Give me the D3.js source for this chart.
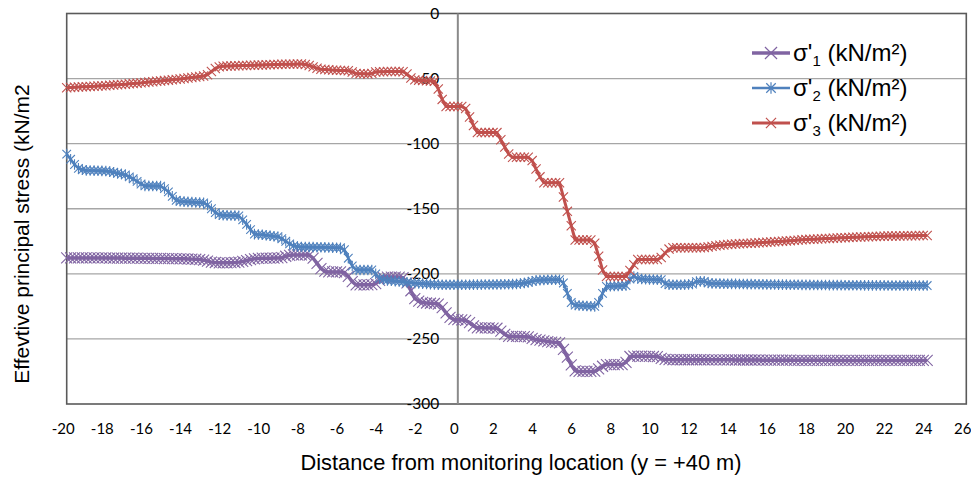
<!DOCTYPE html>
<html>
<head>
<meta charset="utf-8">
<script src="https://cdn.jsdelivr.net/npm/d3@7"></script>
<style>
  html, body { margin: 0; padding: 0; background: #fff; }
  svg { display: block; }
</style>
</head>
<body>
<svg id="chart" width="971" height="479"></svg>
<script>
// Distance along the section, metres (sampled every 0.2 m from -20 to +24)
const distStart = -20, distStep = 0.2, distCount = 221;
const distance = d3.range(distCount).map(i => +(distStart + i * distStep).toFixed(1));

// Effective principal stresses, kN/m² (compression negative)
const sigma1 = [
  -187.8,-187.8,-187.8,-187.8,-187.8,-187.8,-187.8,-187.8,-187.8,-187.8,
  -187.8,-187.9,-187.9,-187.9,-187.9,-188.0,-188.0,-188.0,-188.0,-188.1,
  -188.1,-188.1,-188.2,-188.2,-188.2,-188.3,-188.3,-188.4,-188.4,-188.5,
  -188.5,-188.6,-188.7,-188.8,-189.0,-189.5,-190.2,-191.0,-191.3,-191.5,
  -191.5,-191.5,-191.4,-191.3,-191.0,-190.5,-189.8,-189.0,-188.5,-188.2,
  -188.0,-188.0,-188.0,-187.9,-187.8,-187.6,-186.5,-185.8,-185.5,-185.5,
  -185.5,-185.5,-185.6,-188.0,-192.0,-196.0,-198.0,-198.5,-198.5,-198.5,
  -198.5,-199.0,-202.0,-206.0,-208.4,-208.4,-208.4,-208.4,-208.3,-207.5,
  -205.0,-203.0,-202.5,-202.5,-202.5,-202.5,-203.0,-207.0,-213.0,-219.0,
  -221.0,-222.0,-222.4,-222.6,-222.8,-223.2,-226.0,-230.0,-233.5,-235.0,
  -235.2,-235.4,-235.8,-237.5,-240.0,-241.5,-241.5,-241.6,-241.6,-241.7,
  -241.8,-244.0,-246.5,-248.0,-248.0,-248.1,-248.2,-248.3,-248.5,-249.5,
  -250.5,-251.0,-251.5,-252.0,-252.4,-252.7,-253.0,-258.0,-264.0,-270.0,
  -274.5,-275.0,-275.0,-275.0,-275.0,-274.8,-273.0,-271.0,-269.7,-269.7,
  -269.7,-269.7,-269.7,-268.0,-263.5,-263.3,-263.3,-263.3,-263.4,-263.4,
  -263.5,-263.6,-265.0,-265.8,-265.9,-266.0,-266.0,-266.0,-266.0,-266.0,
  -266.0,-266.0,-266.0,-266.0,-266.1,-266.1,-266.1,-266.1,-266.1,-266.1,
  -266.1,-266.2,-266.2,-266.2,-266.2,-266.2,-266.2,-266.2,-266.3,-266.3,
  -266.3,-266.3,-266.3,-266.3,-266.3,-266.3,-266.4,-266.4,-266.4,-266.4,
  -266.4,-266.4,-266.4,-266.4,-266.4,-266.4,-266.5,-266.5,-266.5,-266.5,
  -266.5,-266.5,-266.5,-266.5,-266.5,-266.5,-266.5,-266.5,-266.5,-266.5,
  -266.5,-266.5,-266.5,-266.5,-266.5,-266.5,-266.5,-266.5,-266.5,-266.5,
  -266.5
];

const sigma2 = [
  -108.0,-112.0,-116.0,-119.0,-120.0,-120.5,-120.6,-120.7,-120.8,-120.9,
  -121.0,-121.5,-122.0,-122.7,-123.3,-124.0,-125.5,-127.0,-129.0,-131.0,
  -132.4,-132.4,-132.5,-132.5,-132.6,-134.5,-137.0,-140.5,-143.5,-144.2,
  -144.5,-144.7,-144.9,-145.1,-145.3,-145.5,-147.0,-150.0,-153.0,-154.5,
  -155.0,-155.1,-155.2,-155.3,-155.5,-158.5,-162.0,-166.0,-169.5,-169.8,
  -170.0,-170.4,-170.8,-171.1,-171.5,-173.0,-175.0,-177.0,-178.5,-179.0,
  -179.4,-179.4,-179.5,-179.5,-179.6,-179.6,-179.7,-179.8,-179.9,-180.0,
  -180.0,-181.5,-188.0,-194.0,-197.0,-197.0,-197.0,-197.0,-197.0,-200.0,
  -203.5,-204.5,-205.0,-205.3,-205.6,-205.9,-206.2,-206.5,-206.8,-207.1,
  -207.3,-207.5,-207.7,-207.9,-208.1,-208.3,-208.4,-208.4,-208.4,-208.4,
  -208.4,-208.4,-208.4,-208.4,-208.3,-208.3,-208.3,-208.2,-208.2,-208.2,
  -208.1,-208.1,-208.0,-208.0,-207.9,-207.8,-207.4,-207.0,-206.5,-205.7,
  -205.0,-204.8,-204.7,-204.6,-204.5,-204.5,-204.5,-207.0,-215.0,-222.0,
  -224.0,-224.3,-224.5,-224.7,-224.9,-225.0,-222.0,-215.0,-209.6,-209.5,
  -209.4,-209.3,-209.2,-209.0,-204.0,-202.0,-203.5,-204.0,-204.2,-204.3,
  -204.4,-204.5,-204.5,-207.5,-208.4,-208.4,-208.4,-208.4,-208.3,-208.2,
  -207.8,-206.0,-205.8,-205.8,-207.0,-207.3,-207.4,-207.5,-207.6,-207.6,
  -207.7,-207.7,-207.8,-207.8,-207.9,-207.9,-208.0,-208.0,-208.1,-208.1,
  -208.2,-208.2,-208.3,-208.3,-208.3,-208.4,-208.4,-208.4,-208.5,-208.5,
  -208.5,-208.6,-208.6,-208.6,-208.6,-208.7,-208.7,-208.7,-208.7,-208.8,
  -208.8,-208.8,-208.8,-208.8,-208.9,-208.9,-208.9,-208.9,-208.9,-208.9,
  -209.0,-209.0,-209.0,-209.0,-209.0,-209.0,-209.0,-209.0,-209.0,-209.0,
  -209.0
];

const sigma3 = [
  -57.0,-56.8,-56.6,-56.5,-56.3,-56.2,-56.0,-55.9,-55.7,-55.6,
  -55.5,-55.2,-55.0,-54.8,-54.5,-54.3,-54.0,-53.8,-53.5,-53.3,
  -53.0,-52.7,-52.4,-52.1,-51.8,-51.5,-51.2,-50.9,-50.6,-50.3,
  -50.0,-49.6,-49.2,-48.8,-48.4,-48.0,-47.0,-44.6,-42.2,-41.0,
  -40.5,-40.4,-40.3,-40.2,-40.1,-40.0,-39.9,-39.8,-39.7,-39.6,
  -39.5,-39.4,-39.3,-39.2,-39.1,-39.0,-39.0,-38.9,-38.9,-38.8,
  -38.8,-39.2,-40.0,-41.0,-42.0,-42.8,-43.0,-43.3,-43.5,-43.6,
  -43.7,-43.8,-44.0,-45.0,-46.0,-46.2,-46.3,-46.4,-46.0,-45.0,
  -44.8,-44.7,-44.6,-44.6,-44.6,-44.6,-44.8,-46.5,-49.5,-51.0,
  -51.2,-51.4,-51.6,-51.8,-52.0,-58.0,-66.0,-71.5,-71.5,-71.5,
  -71.5,-71.5,-73.0,-79.5,-86.0,-91.5,-91.5,-91.5,-91.5,-91.5,
  -91.5,-97.0,-102.5,-108.0,-110.5,-110.5,-110.5,-110.5,-110.5,-113.0,
  -119.5,-125.5,-130.0,-130.0,-130.0,-130.0,-130.0,-141.0,-152.0,-163.0,
  -174.0,-174.0,-174.0,-174.0,-174.0,-176.5,-186.5,-197.0,-202.0,-202.0,
  -202.0,-202.0,-202.0,-202.0,-197.5,-193.0,-189.0,-189.0,-189.0,-189.0,
  -189.0,-189.0,-187.5,-184.0,-181.0,-180.0,-180.0,-180.0,-180.0,-180.0,
  -180.0,-180.0,-179.9,-179.7,-179.3,-178.9,-178.5,-178.1,-177.8,-177.5,
  -177.3,-177.1,-176.9,-176.7,-176.6,-176.5,-176.3,-176.1,-175.9,-175.7,
  -175.5,-175.3,-175.1,-174.9,-174.7,-174.5,-174.3,-174.1,-173.9,-173.7,
  -173.5,-173.4,-173.2,-173.1,-172.9,-172.8,-172.6,-172.5,-172.3,-172.2,
  -172.0,-171.9,-171.8,-171.7,-171.6,-171.5,-171.4,-171.3,-171.2,-171.1,
  -171.0,-171.0,-170.9,-170.9,-170.8,-170.8,-170.7,-170.7,-170.6,-170.6,
  -170.5
];

const seriesNames = ["1", "2", "3"];
const xTicks = d3.range(-20, 27, 2);
const yTicks = [0, -50, -100, -150, -200, -250, -300];
const xTitle = "Distance from monitoring location (y = +40 m)";
const yTitle = "Effevtive principal stress (kN/m2";

// ---- layout ----
const svg = d3.select("#chart");
const W = 971, H = 479;
const plotLeft = 66.7, plotRight = 966.3, plotTop = 13.5, plotBottom = 404;

const x = d3.scaleLinear().domain([-20, 26]).range([plotLeft, plotRight]);
const y = d3.scaleLinear().domain([0, -300]).range([plotTop, plotBottom]);

svg.append("rect").attr("width", W).attr("height", H).attr("fill", "#fff");

// horizontal gridlines
svg.append("g")
  .selectAll("line")
  .data(yTicks.filter(v => v !== 0 && v !== -300))
  .join("line")
  .attr("x1", plotLeft).attr("x2", plotRight)
  .attr("y1", d => y(d)).attr("y2", d => y(d))
  .attr("stroke", "#a6a6a6").attr("stroke-width", 1.3);

// plot frame
svg.append("rect")
  .attr("x", plotLeft).attr("y", plotTop)
  .attr("width", plotRight - plotLeft).attr("height", plotBottom - plotTop)
  .attr("fill", "none").attr("stroke", "#5a5a5a").attr("stroke-width", 1.6);

// vertical axis crossing at distance 0
svg.append("line")
  .attr("x1", x(0)).attr("x2", x(0))
  .attr("y1", plotTop).attr("y2", plotBottom)
  .attr("stroke", "#8a8a8a").attr("stroke-width", 2);

const tickFont = "Lato, 'Open Sans', sans-serif";
const plainNumber = d => String(d);   // hyphen-minus, as in the printed labels

// y tick labels next to the crossing axis
const yAxis = svg.append("g")
  .attr("transform", `translate(${x(0)},0)`)
  .call(d3.axisLeft(y).tickValues(yTicks).tickSize(0).tickPadding(18.5).tickFormat(plainNumber));
yAxis.select(".domain").remove();
yAxis.selectAll("text")
  .attr("font-family", tickFont).attr("font-size", 15.5).attr("fill", "#000");

// x tick labels below the frame
const xAxis = svg.append("g")
  .attr("transform", `translate(0,${plotBottom})`)
  .call(d3.axisBottom(x).tickValues(xTicks).tickSize(0).tickPadding(19).tickFormat(plainNumber));
xAxis.select(".domain").remove();
xAxis.selectAll("text")
  .attr("font-family", tickFont).attr("font-size", 15).attr("fill", "#000")
  .attr("dx", -4);

// axis titles
svg.append("text")
  .attr("x", 521).attr("y", 470)
  .attr("text-anchor", "middle")
  .attr("font-family", "'Liberation Sans', Arial, sans-serif")
  .attr("font-size", 21.8).attr("fill", "#000")
  .text(xTitle);

svg.append("text")
  .attr("transform", `translate(29,234) rotate(-90)`)
  .attr("text-anchor", "middle")
  .attr("font-family", "'Liberation Sans', Arial, sans-serif")
  .attr("font-size", 21).attr("fill", "#000")
  .text(yTitle);

// ---- series ----
const markers = {
  cross: "M-5.5,-5.5L5.5,5.5M-5.5,5.5L5.5,-5.5",
  star: "M-4.3,-4.3L4.3,4.3M-4.3,4.3L4.3,-4.3M0,-5.3L0,5.3",
  smallCross: "M-4.6,-4.6L4.6,4.6M-4.6,4.6L4.6,-4.6"
};

const series = [
  { values: sigma1, color: "#8064a2", width: 3.5, marker: markers.cross, mw: 1.1 },
  { values: sigma2, color: "#4f81bd", width: 2.6, marker: markers.star, mw: 1.1 },
  { values: sigma3, color: "#c0504d", width: 3, marker: markers.smallCross, mw: 1.1 }
];

const line = d3.line().x(d => x(d[0])).y(d => y(d[1]));

series.forEach(s => {
  const pts = distance.map((d, i) => [d, s.values[i]]);
  const g = svg.append("g");
  g.append("path")
    .attr("d", line(pts))
    .attr("fill", "none")
    .attr("stroke", s.color)
    .attr("stroke-width", s.width)
    .attr("stroke-linejoin", "round");
  g.selectAll("path.mk")
    .data(pts)
    .join("path")
    .attr("class", "mk")
    .attr("d", s.marker)
    .attr("transform", d => `translate(${x(d[0])},${y(d[1])})`)
    .attr("fill", "none")
    .attr("stroke", s.color)
    .attr("stroke-width", s.mw);
});

// ---- legend ----
const legendRows = [53, 88, 123];
const legend = svg.append("g");
series.forEach((s, i) => {
  const ry = legendRows[i];
  const row = legend.append("g");
  row.append("line")
    .attr("x1", 752).attr("x2", 790).attr("y1", ry).attr("y2", ry)
    .attr("stroke", s.color).attr("stroke-width", s.width);
  row.append("path")
    .attr("d", s.marker)
    .attr("transform", `translate(771,${ry}) scale(1.1)`)
    .attr("fill", "none").attr("stroke", s.color).attr("stroke-width", 1.1);
  const t = row.append("text")
    .attr("x", 793).attr("y", ry + 8)
    .attr("font-family", "'Liberation Sans', Arial, sans-serif")
    .attr("font-size", 24).attr("fill", "#000");
  t.append("tspan").text("σ'");
  t.append("tspan").attr("font-size", 15).attr("dy", 5).text(seriesNames[i]);
  t.append("tspan").attr("dy", -5).text(" (kN/m²)");
});
</script>
</body>
</html>
